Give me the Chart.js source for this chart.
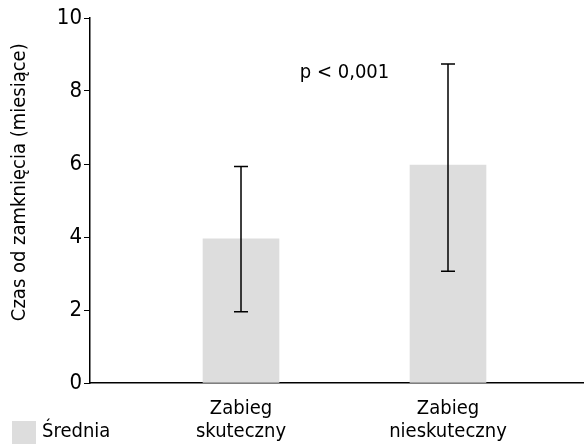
<!DOCTYPE html>
<html>
<head>
<meta charset="utf-8">
<script src="https://cdn.jsdelivr.net/npm/chart.js@4"></script>
<style>
  html, body { margin: 0; padding: 0; background: #fff; }
  #wrap { width: 584px; height: 444px; }
</style>
</head>
<body>
<div id="wrap"><canvas id="myChart" width="584" height="444"></canvas></div>
<script>
// data
const categories = [['Zabieg', 'skuteczny'], ['Zabieg', 'nieskuteczny']];
const means = [3.95, 5.97];
const errLow = [1.95, 3.06];
const errHigh = [5.93, 8.74];
const yTicks = [0, 2, 4, 6, 8, 10];
const seriesName = 'Średnia';
const pLabel = 'p < 0,001';
const yTitle = 'Czas od zamknięcia (miesiące)';

const FONT = '"DejaVu Sans Condensed", "Liberation Sans Narrow", sans-serif';
const FSIZE = 20;
const BAR = '#dddddd';

const extras = {
    id: 'extras',
    afterDatasetsDraw(chart) {
        const ctx = chart.ctx;
        const x = chart.scales.x, y = chart.scales.y;
        ctx.save();
        // error bars
        ctx.strokeStyle = '#000';
        ctx.lineWidth = 1.5;
        means.forEach((m, i) => {
            const px = x.getPixelForValue(i + 1);
            const top = y.getPixelForValue(errHigh[i]);
            const bot = y.getPixelForValue(errLow[i]);
            ctx.beginPath();
            ctx.moveTo(px, top); ctx.lineTo(px, bot);
            ctx.moveTo(px - 7, top); ctx.lineTo(px + 7, top);
            ctx.moveTo(px - 7, bot); ctx.lineTo(px + 7, bot);
            ctx.stroke();
        });
        // p value
        ctx.fillStyle = '#000';
        ctx.font = FSIZE + 'px ' + FONT;
        ctx.textAlign = 'center';
        ctx.textBaseline = 'middle';
        ctx.fillText(pLabel, x.getPixelForValue(1.5), y.getPixelForValue(8.5));
        // y title
        ctx.save();
        ctx.translate(20, y.getPixelForValue(5.5));
        ctx.rotate(-Math.PI / 2);
        ctx.fillText(yTitle, 0, 0);
        ctx.restore();
        // legend
        ctx.fillStyle = BAR;
        ctx.fillRect(12, 421, 24, 23);
        ctx.fillStyle = '#000';
        ctx.textAlign = 'left';
        ctx.fillText(seriesName, 42, 432);
        ctx.restore();
    }
};

document.addEventListener('DOMContentLoaded', function() {
    const ctx = document.getElementById('myChart').getContext('2d');
    const myChart = new Chart(ctx, {
        type: 'bar',
        data: {
            datasets: [{
                label: seriesName,
                data: means.map((v, i) => ({ x: i + 1, y: v })),
                backgroundColor: BAR,
                borderWidth: 0,
                barThickness: 76
            }]
        },
        options: {
            responsive: false,
            animation: false,
            devicePixelRatio: 1,
            layout: { padding: { top: 18, right: 0, bottom: 0, left: 0 } },
            plugins: {
                legend: { display: false },
                tooltip: { enabled: false }
            },
            scales: {
                x: {
                    type: 'linear',
                    offset: false,
                    bounds: 'ticks',
                    min: 0.2705,
                    max: 2.657,
                    afterBuildTicks: (scale) => {
                        scale.ticks = categories.map((c, i) => ({ value: i + 1 }));
                    },
                    afterFit: (scale) => { scale.height = 61; },
                    ticks: {
                        autoSkip: false,
                        maxRotation: 0,
                        color: '#000',
                        padding: 14,
                        font: { family: FONT, size: FSIZE, lineHeight: 1.15 },
                        callback: (v) => categories[v - 1] || ''
                    },
                    grid: { display: true, drawOnChartArea: false, drawTicks: false },
                    border: { color: '#000', width: 1.5 }
                },
                y: {
                    min: 0,
                    max: 10,
                    afterBuildTicks: (scale) => {
                        scale.ticks = yTicks.map(v => ({ value: v }));
                    },
                    afterFit: (scale) => { scale.width = 90; },
                    ticks: {
                        color: '#000',
                        padding: 2,
                        font: { family: FONT, size: 22 }
                    },
                    grid: { drawOnChartArea: false, drawTicks: true, tickLength: 6, color: '#000', lineWidth: 1 },
                    border: { color: '#000', width: 1.5 }
                }
            }
        },
        plugins: [extras]
    });
});
</script>
</body>
</html>
